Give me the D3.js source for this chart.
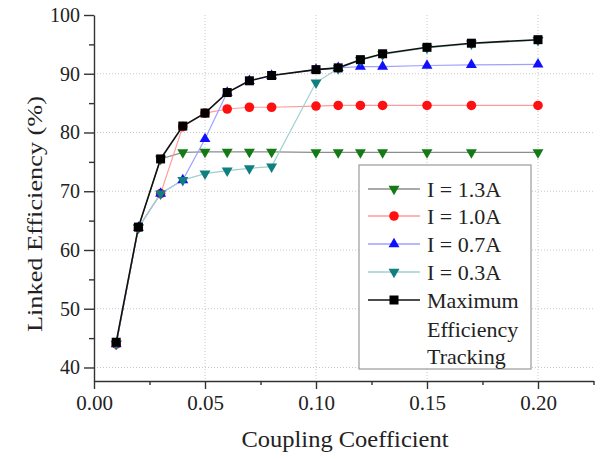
<!DOCTYPE html>
<html>
<head>
<meta charset="utf-8">
<script src="https://cdn.jsdelivr.net/npm/d3@7"></script>
<style>
  html, body { margin: 0; padding: 0; background: #fff; }
</style>
</head>
<body>
<div id="chart"></div>
<script>
// coupling coefficient (x) and linked efficiency (%) per drive current
const K = [0.01, 0.02, 0.03, 0.04, 0.05, 0.06, 0.07, 0.08, 0.10, 0.11, 0.12, 0.13, 0.15, 0.17, 0.20];
const EFF_13 = [44.0, 63.8, 75.5, 76.6, 76.7, 76.7, 76.7, 76.7, 76.6, 76.6, 76.6, 76.6, 76.6, 76.6, 76.6];
const EFF_10 = [44.0, 63.8, 69.6, 81.0, 83.3, 84.0, 84.3, 84.3, 84.5, 84.6, 84.6, 84.6, 84.6, 84.6, 84.6];
const EFF_07 = [44.0, 63.8, 69.6, 71.9, 78.9, 86.8, 88.8, 89.7, 90.7, 91.0, 91.2, 91.2, 91.4, 91.5, 91.6];
const EFF_03 = [44.0, 63.8, 69.6, 71.9, 73.0, 73.5, 73.9, 74.2, 88.5, 90.9, 92.3, 93.3, 94.4, 95.1, 95.7];
const EFF_MAX = [44.3, 63.9, 75.5, 81.1, 83.3, 86.8, 88.8, 89.7, 90.7, 91.0, 92.4, 93.4, 94.5, 95.2, 95.8];
const SERIES_LABELS = ["I = 1.3A", "I = 1.0A", "I = 0.7A", "I = 0.3A", "Maximum"];
const X_TICKS = [0.00, 0.05, 0.10, 0.15, 0.20];
const Y_TICKS = [40, 50, 60, 70, 80, 90, 100];

const W = 602, H = 459;
const margin = { top: 15, right: 8.5, bottom: 78, left: 94 };
const w = W - margin.left - margin.right;
const h = H - margin.top - margin.bottom;

const FONT = "'Liberation Serif', 'Times New Roman', serif";

const svg = d3.select("#chart").append("svg")
  .attr("width", W).attr("height", H)
  .style("font-family", FONT);

const g = svg.append("g").attr("transform", `translate(${margin.left},${margin.top})`);

const x = d3.scaleLinear().domain([0, 0.225]).range([0, w]);
const y = d3.scaleLinear().domain([37.7, 100]).range([h, 0]);

/* dotted grid */
g.append("g").selectAll("line").data(Y_TICKS.filter(d => d < 100)).enter().append("line")
  .attr("x1", 0).attr("x2", w).attr("y1", d => y(d)).attr("y2", d => y(d))
  .attr("stroke", "#c8c8c8").attr("stroke-dasharray", "1,2");
g.append("g").selectAll("line").data(X_TICKS.filter(d => d > 0)).enter().append("line")
  .attr("y1", 0).attr("y2", h).attr("x1", d => x(d)).attr("x2", d => x(d))
  .attr("stroke", "#c8c8c8").attr("stroke-dasharray", "1,2");

/* axes */
const xAxis = g.append("g").attr("transform", `translate(0,${h})`)
  .call(d3.axisBottom(x).tickValues(X_TICKS).tickFormat(d3.format(".2f")).tickSize(8).tickSizeOuter(0));
g.append("g").attr("transform", `translate(0,${h})`)
  .call(d3.axisBottom(x).tickValues([0.025, 0.075, 0.125, 0.175, 0.225]).tickFormat("").tickSize(4).tickSizeOuter(0))
  .select(".domain").remove();
const yAxis = g.append("g")
  .call(d3.axisLeft(y).tickValues(Y_TICKS).tickSize(10).tickSizeOuter(0));
g.append("g")
  .call(d3.axisLeft(y).tickValues([45, 55, 65, 75, 85, 95]).tickFormat("").tickSize(5).tickSizeOuter(0))
  .select(".domain").remove();

g.selectAll(".domain, .tick line").attr("stroke", "#333").attr("stroke-width", 1.4);
xAxis.selectAll("text").style("font-size", "21px").style("font-family", FONT).attr("fill", "#222").attr("dy", "0.86em");
yAxis.selectAll("text").style("font-size", "20px").style("font-family", FONT).attr("fill", "#222").attr("dx", "-0.05em");

svg.append("text").attr("x", 345).attr("y", 447)
  .attr("text-anchor", "middle").style("font-size", "23px").attr("fill", "#222")
  .attr("textLength", 207).attr("lengthAdjust", "spacingAndGlyphs")
  .text("Coupling Coefficient");
svg.append("text").attr("transform", "rotate(-90)")
  .attr("x", -214).attr("y", 42).attr("text-anchor", "middle")
  .style("font-size", "21px").attr("fill", "#222")
  .attr("textLength", 236).attr("lengthAdjust", "spacingAndGlyphs")
  .text("Linked Efficiency (%)");

/* series */
const tri = d3.symbol().type(d3.symbolTriangle).size(52);
const SERIES = [
  { label: SERIES_LABELS[0], vals: EFF_13, line: "#8c8c8c", fill: "#147a14", shape: "down" },
  { label: SERIES_LABELS[1], vals: EFF_10, line: "#ff9a9a", fill: "#ff1010", shape: "circle" },
  { label: SERIES_LABELS[2], vals: EFF_07, line: "#a0a0ff", fill: "#1010ff", shape: "up" },
  { label: SERIES_LABELS[3], vals: EFF_03, line: "#9fd0cf", fill: "#0f7f7f", shape: "down" },
  { label: SERIES_LABELS[4], vals: EFF_MAX, line: "#111", fill: "#000", shape: "square" },
];

function marker(sel, s) {
  if (s.shape === "circle") {
    sel.append("circle").attr("r", 4.8).attr("fill", s.fill);
  } else if (s.shape === "square") {
    sel.append("rect").attr("x", -4.5).attr("y", -4.5).attr("width", 9).attr("height", 9).attr("fill", s.fill);
  } else {
    sel.append("path").attr("d", tri())
      .attr("transform", s.shape === "down" ? "rotate(180)" : null)
      .attr("fill", s.fill);
  }
}

const line = d3.line().x(d => x(d[0])).y(d => y(d[1]));
SERIES.forEach(s => {
  g.append("path").datum(K.map((k, i) => [k, s.vals[i]]))
    .attr("d", line).attr("fill", "none")
    .attr("stroke", s.line).attr("stroke-width", s.shape === "square" ? 1.6 : 1.2);
});
SERIES.forEach(s => {
  K.forEach((k, i) => {
    const m = g.append("g").attr("transform", `translate(${x(k)},${y(s.vals[i])})`);
    marker(m, s);
  });
});

/* legend */
const legend = svg.append("g");
legend.append("rect").attr("x", 359).attr("y", 165).attr("width", 172).attr("height", 204)
  .attr("fill", "#fff").attr("stroke", "#999").attr("stroke-width", 1.2);
const ROW_Y = [189, 216, 244, 272, 300];
SERIES.forEach((s, i) => {
  const row = legend.append("g").attr("transform", `translate(0,${ROW_Y[i]})`);
  row.append("line").attr("x1", 368).attr("x2", 420).attr("stroke", s.line).attr("stroke-width", 1.4);
  marker(row.append("g").attr("transform", "translate(394,0)"), s);
  row.append("text").attr("x", 427).attr("y", 7.5).style("font-size", "22px").attr("fill", "#222").text(s.label);
});
legend.append("text").attr("x", 427).attr("y", 337).style("font-size", "22px").attr("fill", "#222").text("Efficiency");
legend.append("text").attr("x", 427).attr("y", 364).style("font-size", "22px").attr("fill", "#222").text("Tracking");
</script>
</body>
</html>
